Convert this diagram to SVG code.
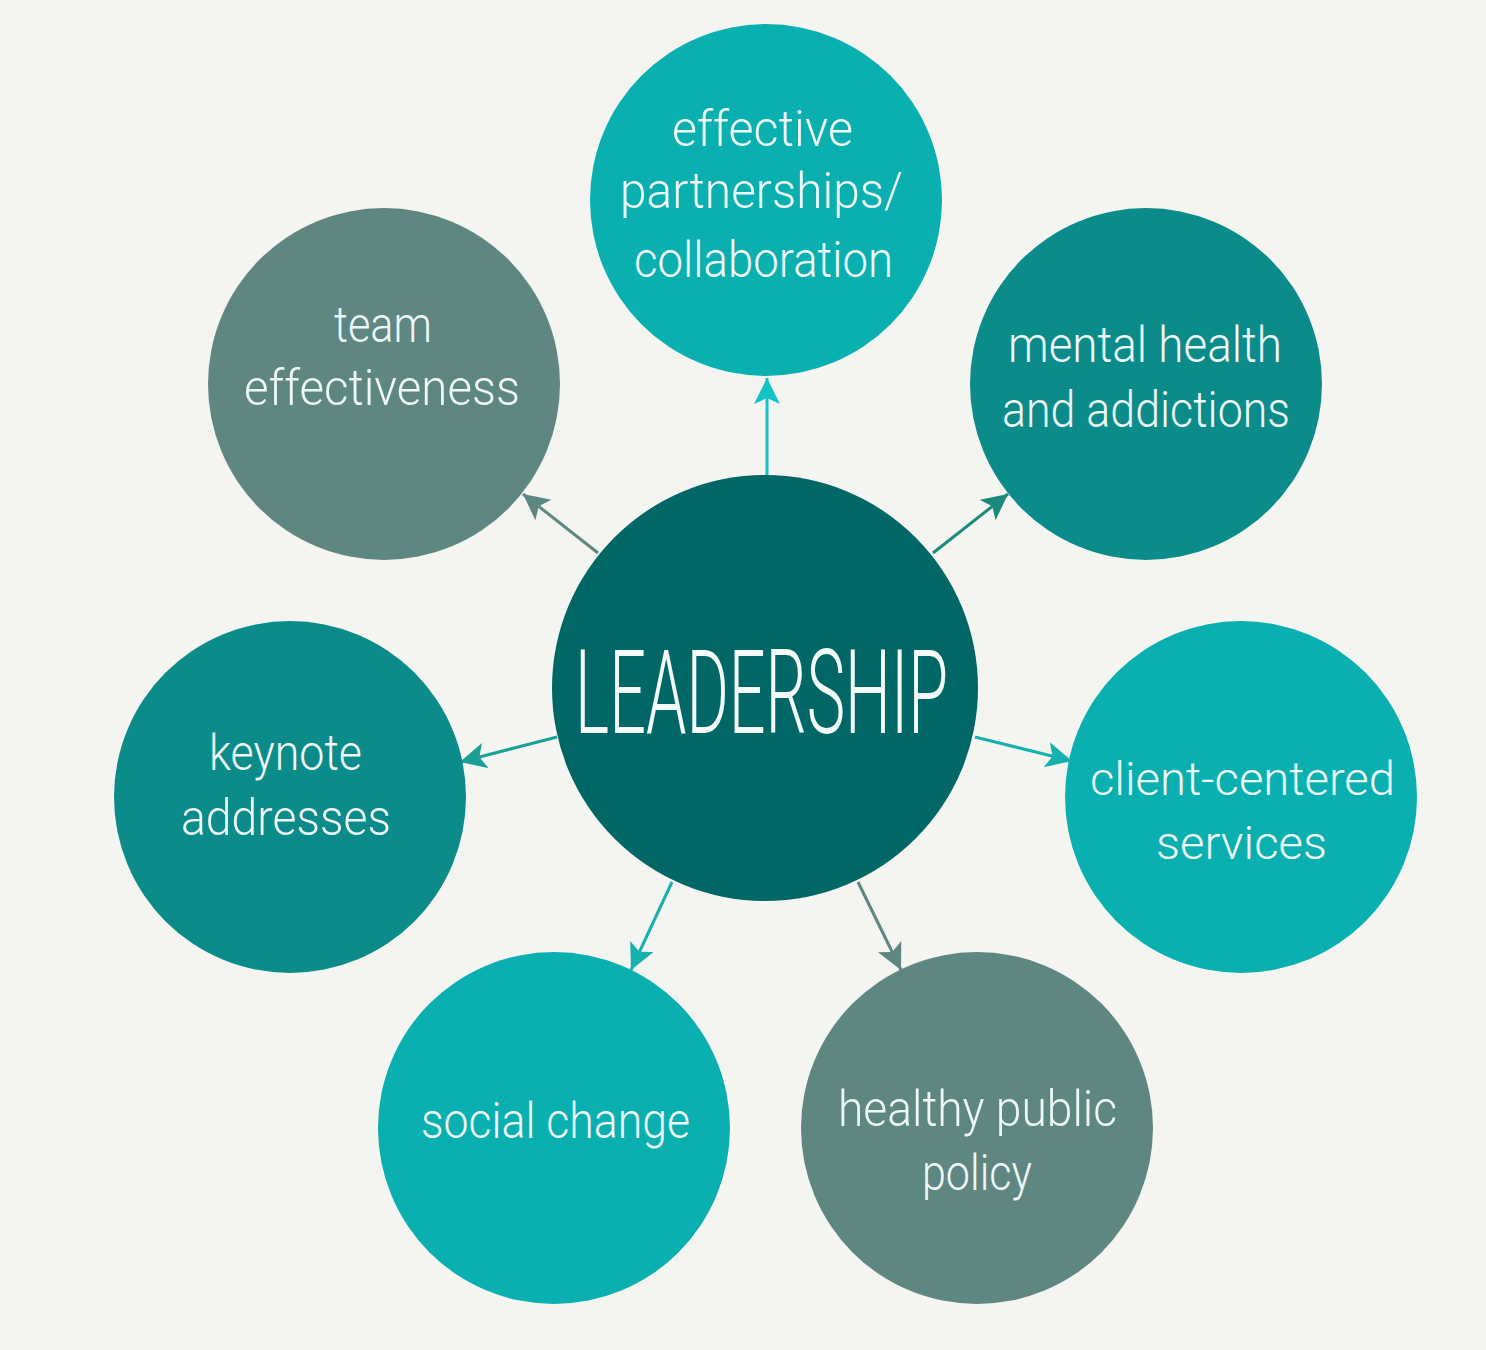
<svg xmlns="http://www.w3.org/2000/svg" width="1486" height="1350" viewBox="0 0 1486 1350">
<defs>
<style>
.lbl{font-family:Roboto,"Liberation Sans",sans-serif;font-weight:300;font-size:50px;fill:#eef8f6;text-anchor:start}
.sm{font-size:46px}
.big{font-family:Roboto,"Liberation Sans",sans-serif;font-weight:300;font-size:62px;fill:#f4faf8}
.con{stroke-width:3;fill:none}
</style>
<marker id="mCyan" markerUnits="userSpaceOnUse" markerWidth="28" markerHeight="28" refX="26" refY="13" orient="auto"><path d="M0,0 L26,13 L0,26 L6,13 z" fill="#14c3c4"/></marker>
<marker id="mGray" markerUnits="userSpaceOnUse" markerWidth="28" markerHeight="28" refX="26" refY="13" orient="auto"><path d="M0,0 L26,13 L0,26 L6,13 z" fill="#5f8781"/></marker>
<marker id="mGreen" markerUnits="userSpaceOnUse" markerWidth="28" markerHeight="28" refX="26" refY="13" orient="auto"><path d="M0,0 L26,13 L0,26 L6,13 z" fill="#1a8a7c"/></marker>
<marker id="mTeal" markerUnits="userSpaceOnUse" markerWidth="28" markerHeight="28" refX="26" refY="13" orient="auto"><path d="M0,0 L26,13 L0,26 L6,13 z" fill="#1a9e96"/></marker>
<marker id="mTeal2" markerUnits="userSpaceOnUse" markerWidth="28" markerHeight="28" refX="26" refY="13" orient="auto"><path d="M0,0 L26,13 L0,26 L6,13 z" fill="#16b0ae"/></marker>
</defs>
<rect width="1486" height="1350" fill="#f4f5f0"/>
<g id="connectors">
<line class="con" x1="767" y1="476" x2="767" y2="378" stroke="#14c3c4" marker-end="url(#mCyan)"/>
<line class="con" x1="598" y1="553" x2="523" y2="494" stroke="#5f8781" marker-end="url(#mGray)"/>
<line class="con" x1="933" y1="553" x2="1008" y2="494" stroke="#1a8a7c" marker-end="url(#mGreen)"/>
<line class="con" x1="557" y1="737" x2="460" y2="762" stroke="#1a9e96" marker-end="url(#mTeal)"/>
<line class="con" x1="975" y1="737" x2="1072" y2="761" stroke="#16b0ae" marker-end="url(#mTeal2)"/>
<line class="con" x1="672" y1="882" x2="631" y2="970" stroke="#16b0ae" marker-end="url(#mTeal2)"/>
<line class="con" x1="858" y1="882" x2="901" y2="970" stroke="#5f8781" marker-end="url(#mGray)"/>
</g>
<g id="node-leadership">
<circle cx="765" cy="688" r="213" fill="#006666"/>
<text class="big" x="0" y="0" transform="translate(575,733) scale(1,1.9)" textLength="373" lengthAdjust="spacingAndGlyphs">LEADERSHIP</text>
</g>
<g id="node-partnerships">
<circle cx="766" cy="200" r="176" fill="#0aafb0"/>
<text class="lbl" x="672" y="146" textLength="181" lengthAdjust="spacingAndGlyphs">effective</text>
<text class="lbl" x="620" y="208" textLength="283" lengthAdjust="spacingAndGlyphs">partnerships/</text>
<text class="lbl" x="634" y="277" textLength="259" lengthAdjust="spacingAndGlyphs">collaboration</text>
</g>
<g id="node-team">
<circle cx="384" cy="384" r="176" fill="#5f8781"/>
<text class="lbl" x="334" y="342" textLength="98" lengthAdjust="spacingAndGlyphs">team</text>
<text class="lbl" x="244" y="405" textLength="276" lengthAdjust="spacingAndGlyphs">effectiveness</text>
</g>
<g id="node-mental">
<circle cx="1146" cy="384" r="176" fill="#0b8b8a"/>
<text class="lbl" x="1008" y="362" textLength="274" lengthAdjust="spacingAndGlyphs">mental health</text>
<text class="lbl" x="1002" y="427" textLength="288" lengthAdjust="spacingAndGlyphs">and addictions</text>
</g>
<g id="node-keynote">
<circle cx="290" cy="797" r="176" fill="#0b8b8a"/>
<text class="lbl" x="209" y="770" textLength="153" lengthAdjust="spacingAndGlyphs">keynote</text>
<text class="lbl" x="181" y="835" textLength="210" lengthAdjust="spacingAndGlyphs">addresses</text>
</g>
<g id="node-client">
<circle cx="1241" cy="797" r="176" fill="#0aafb0"/>
<text class="lbl sm" x="1090" y="795" textLength="305" lengthAdjust="spacingAndGlyphs">client-centered</text>
<text class="lbl sm" x="1156" y="859" textLength="171" lengthAdjust="spacingAndGlyphs">services</text>
</g>
<g id="node-social">
<circle cx="554" cy="1128" r="176" fill="#0aafb0"/>
<text class="lbl" x="421" y="1138" textLength="269" lengthAdjust="spacingAndGlyphs">social change</text>
</g>
<g id="node-policy">
<circle cx="977" cy="1128" r="176" fill="#5f8781"/>
<text class="lbl" x="838" y="1126" textLength="279" lengthAdjust="spacingAndGlyphs">healthy public</text>
<text class="lbl" x="922" y="1190" textLength="110" lengthAdjust="spacingAndGlyphs">policy</text>
</g>
</svg>
